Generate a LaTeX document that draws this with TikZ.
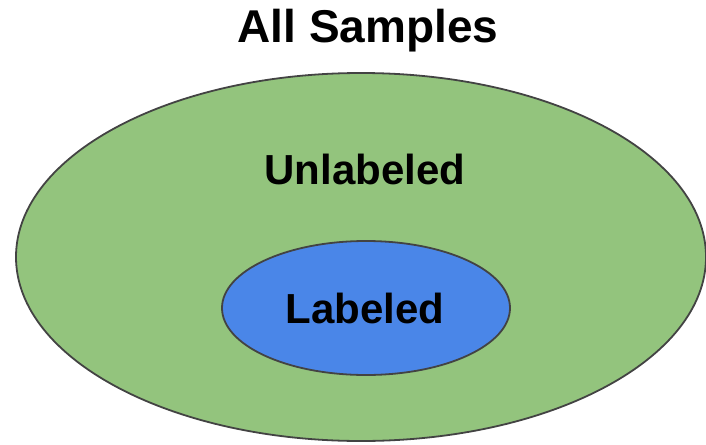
\documentclass[tikz,border=0pt]{standalone}
\usepackage{fontspec}
\setmainfont{Liberation Sans}
\usetikzlibrary{shapes.geometric,positioning}
\definecolor{setgreen}{RGB}{147,196,125}
\definecolor{setblue}{RGB}{74,134,232}
\definecolor{setline}{RGB}{67,67,67}
\tikzstyle{setshape} = [ellipse, draw=setline, line width=1.8pt, inner sep=0pt]
\tikzstyle{setlabel} = [anchor=base, inner sep=0pt, font=\bfseries\fontsize{42}{42}\selectfont]

\begin{document}
\begin{tikzpicture}[x=1pt, y=-1pt]
\useasboundingbox (0,0) rectangle (706,444);
\node (title) [anchor=base, inner sep=0pt, font=\bfseries\fontsize{46}{46}\selectfont] at (368,43) {All Samples};
\node (all) [setshape, fill=setgreen, minimum width=690pt, minimum height=368pt] at (361,257) {};
\node (labeled) [setshape, fill=setblue, minimum width=288pt, minimum height=134pt] at (366,308) {};
\node (unlabeledtext) [setlabel] at (365,184) {Unlabeled};
\node (labeledtext) [setlabel] at (365,323) {Labeled};
\end{tikzpicture}
\end{document}
